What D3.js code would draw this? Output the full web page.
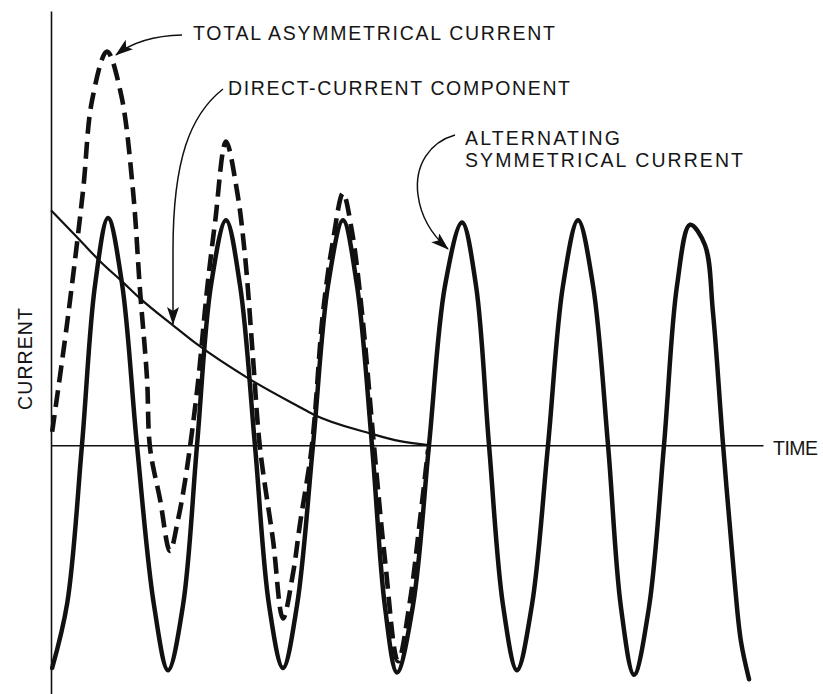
<!DOCTYPE html>
<html>
<head>
<meta charset="utf-8">
<script src="https://cdn.jsdelivr.net/npm/d3@7"></script>
<style>
  html, body { margin: 0; padding: 0; background: #fff; }
  svg { display: block; }
  text { font-family: "Liberation Sans", Arial, sans-serif; fill: #161616; }
</style>
</head>
<body>
<svg id="chart" width="823" height="694"></svg>
<script>
// Time in cycles of the supply frequency, current in per-unit of the symmetrical peak.

// Alternating symmetrical current
const acTime  = [0.01,0.14,0.266,0.378,0.490,0.610,0.739,0.885,1.006,1.135,1.255,1.375,1.504,1.625,1.753,1.874,1.994,2.115,2.252,2.381,2.510,2.630,2.759,2.871,2.974,3.112,3.249,3.387,3.533,3.653,3.765,3.885,4.005,4.134,4.272,4.401,4.530,4.659,4.788,4.899,5.011,5.140,5.269,5.381,5.493,5.621,5.690,5.777,5.870,5.930,6.000];
const acValue = [-0.99,-0.70,0,0.71,1.01,0.72,0,-0.71,-1.00,-0.71,0,0.71,1.00,0.71,0,-0.71,-0.99,-0.71,0,0.71,1.00,0.71,0,-0.72,-1.01,-0.71,0,0.71,0.99,0.71,0,-0.71,-1.00,-0.71,0,0.71,1.00,0.71,0,-0.72,-1.02,-0.72,0,0.71,0.98,0.89,0.59,0,-0.57,-0.87,-1.04];

// Decaying direct-current component
const dcTime  = [0,0.249,0.421,0.619,0.765,1.049,1.255,1.710,2.140,2.252,2.742,3.000,3.258];
const dcValue = [1.044,0.911,0.818,0.724,0.653,0.533,0.449,0.293,0.169,0.138,0.053,0.018,0];

// Total asymmetrical current (until the offset has died away)
const totalTime  = [0.01,0.138,0.275,0.352,0.481,0.602,0.705,0.765,0.825,0.851,0.937,1.023,1.092,1.152,1.255,1.341,1.410,1.504,1.599,1.668,1.736,1.796,1.908,1.994,2.080,2.140,2.243,2.338,2.424,2.510,2.587,2.673,2.776,2.871,2.983,3.086,3.172,3.241];
const totalValue = [0.06,0.54,1.13,1.53,1.75,1.56,1.13,0.69,0.30,-0.01,-0.24,-0.47,-0.33,-0.16,0.24,0.69,0.99,1.35,1.13,0.84,0.39,-0.01,-0.42,-0.77,-0.57,-0.35,0,0.59,0.91,1.12,0.95,0.59,0,-0.51,-0.96,-0.69,-0.33,-0.02];

// Labels
const labelTotal = "TOTAL ASYMMETRICAL CURRENT";
const labelDC = "DIRECT-CURRENT COMPONENT";
const labelAC = ["ALTERNATING", "SYMMETRICAL CURRENT"];
const xAxisTitle = "TIME";
const yAxisTitle = "CURRENT";

const xDomain = [0, 6.12];
const yDomain = [-1.11, 1.93];

const svg = d3.select("#chart");
const plot = { left: 51, right: 763, top: 11, bottom: 695 };

const x = d3.scaleLinear().domain(xDomain).range([plot.left, plot.right]);
const y = d3.scaleLinear().domain(yDomain).range([plot.bottom, plot.top]);

const zip = (ts, vs) => ts.map((t, i) => ({ t, v: vs[i] }));

// Axes: bare lines, no ticks
svg.append("g")
  .attr("transform", `translate(${plot.left},0)`)
  .call(d3.axisLeft(y).tickValues([]).tickSizeOuter(0));
svg.append("g")
  .attr("transform", `translate(0,${y(0)})`)
  .call(d3.axisBottom(x).tickValues([]).tickSizeOuter(0));
svg.selectAll(".domain").attr("stroke", "#111").attr("stroke-width", 1.6);

// Arrowhead marker
const defs = svg.append("defs");
defs.append("marker")
  .attr("id", "arrow")
  .attr("markerUnits", "userSpaceOnUse")
  .attr("viewBox", "0 0 18 12")
  .attr("markerWidth", 18)
  .attr("markerHeight", 12)
  .attr("refX", 17)
  .attr("refY", 6)
  .attr("orient", "auto")
  .append("path")
  .attr("d", "M0,0 L18,6 L0,12 L4,6 Z")
  .attr("fill", "#111");

// Curves
const lineCR = d3.line().x(d => x(d.t)).y(d => y(d.v)).curve(d3.curveCatmullRom.alpha(0.5));
const lineMono = d3.line().x(d => x(d.t)).y(d => y(d.v)).curve(d3.curveMonotoneX);

svg.append("path")
  .datum(zip(dcTime, dcValue))
  .attr("d", lineMono)
  .attr("fill", "none")
  .attr("stroke", "#111")
  .attr("stroke-width", 2.2);

svg.append("path")
  .datum(zip(acTime, acValue))
  .attr("d", lineCR)
  .attr("fill", "none")
  .attr("stroke", "#111")
  .attr("stroke-width", 4.5)
  .attr("stroke-linejoin", "round")
  .attr("stroke-linecap", "round");

svg.append("path")
  .datum(zip(totalTime, totalValue))
  .attr("d", lineCR)
  .attr("fill", "none")
  .attr("stroke", "#111")
  .attr("stroke-width", 4.6)
  .attr("stroke-dasharray", "17,8")
  .attr("stroke-linecap", "butt");

// Leader arrows
const leaders = [
  "M182,35 Q140,36 116,55",
  "M223,89 C190,115 173,160 173,250 L173,324",
  "M455,135 C430,142 414,165 418,195 C421,218 432,235 448,249"
];
svg.selectAll("path.leader")
  .data(leaders)
  .join("path")
  .attr("class", "leader")
  .attr("d", d => d)
  .attr("fill", "none")
  .attr("stroke", "#111")
  .attr("stroke-width", 1.5)
  .attr("marker-end", "url(#arrow)");

// Annotations
const fs = 19.5;
function label(txt, x0, base, len) {
  svg.append("text")
    .attr("x", x0).attr("y", base)
    .attr("font-size", fs)
    .attr("textLength", len)
    .attr("lengthAdjust", "spacing")
    .text(txt);
}
label(labelTotal, 193, 40, 362);
label(labelDC, 228, 95, 342);
label(labelAC[0], 465, 145, 155);
label(labelAC[1], 465, 167, 278);
label(xAxisTitle, 773, 455, 45);

svg.append("text")
  .attr("transform", "translate(32,359) rotate(-90)")
  .attr("text-anchor", "middle")
  .attr("font-size", fs)
  .attr("textLength", 102)
  .attr("lengthAdjust", "spacing")
  .text(yAxisTitle);
</script>
</body>
</html>
